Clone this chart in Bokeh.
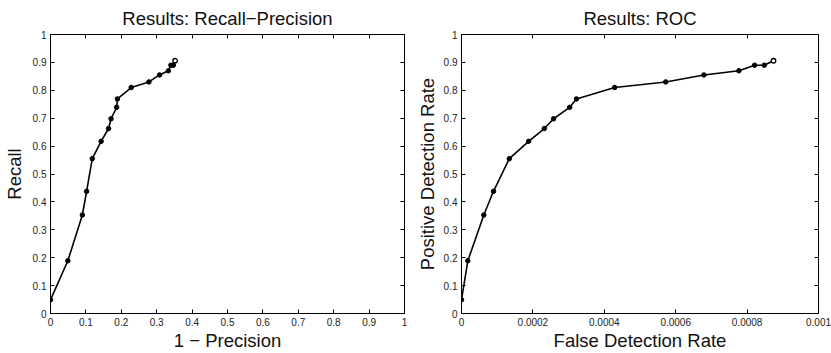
from bokeh.plotting import figure
from bokeh.layouts import row
from bokeh.models import LinearAxis, FixedTicker, CustomJSTickFormatter, Range1d
from bokeh.embed import file_html
from bokeh.resources import INLINE

recall = [0.049, 0.189, 0.353, 0.438, 0.555, 0.617, 0.663, 0.698, 0.739,
          0.769, 0.810, 0.830, 0.855, 0.870, 0.890, 0.890, 0.906]
one_minus_precision = [0.0, 0.049, 0.090, 0.102, 0.118, 0.143, 0.164, 0.171,
                       0.187, 0.189, 0.228, 0.278, 0.308, 0.333, 0.340, 0.347, 0.352]
false_detection_rate = [0.0, 0.0000177, 0.0000625, 0.0000896, 0.000134, 0.000188,
                        0.000232, 0.000258, 0.000303, 0.000322, 0.000429, 0.000572,
                        0.000679, 0.000777, 0.000821, 0.000848, 0.000874]

y_ticks = [0, 0.1, 0.2, 0.3, 0.4, 0.5, 0.6, 0.7, 0.8, 0.9, 1]
x_ticks_left = [0, 0.1, 0.2, 0.3, 0.4, 0.5, 0.6, 0.7, 0.8, 0.9, 1]
x_ticks_right = [0, 0.0002, 0.0004, 0.0006, 0.0008, 0.001]

FONT = "Liberation Sans"
fmt_code = "return String(tick);"


def style_axis(ax, ticks, show_labels=True, label_standoff=2, tick_standoff=4):
    ax.ticker = FixedTicker(ticks=ticks)
    ax.formatter = CustomJSTickFormatter(code=fmt_code)
    ax.major_tick_in = 4
    ax.major_tick_out = 0
    ax.minor_tick_line_color = None
    ax.axis_line_color = "black"
    ax.axis_line_width = 1
    ax.major_tick_line_color = "black"
    ax.major_label_text_font = FONT
    ax.major_label_text_font_size = "10px"
    ax.major_label_text_color = "#222222"
    ax.major_label_standoff = tick_standoff
    ax.axis_label_text_font = FONT
    ax.axis_label_text_font_size = "18.5px"
    ax.axis_label_text_font_style = "normal"
    ax.axis_label_text_color = "#111111"
    ax.axis_label_standoff = label_standoff
    if not show_labels:
        ax.major_label_text_font_size = "0px"
        ax.major_label_text_color = None
        ax.major_label_standoff = 0


def make_fig(title, xs, xmax, xticks, xlabel, ylabel, width, bl, br, ylab_standoff):
    p = figure(width=width, height=353, output_backend="svg",
               toolbar_location=None,
               x_range=Range1d(0, xmax), y_range=Range1d(0, 1),
               min_border_left=bl, min_border_right=br, min_border_top=32,
               min_border_bottom=40)
    p.title.text = title
    p.title.align = "center"
    p.title.text_font = FONT
    p.title.text_font_size = "18.5px"
    p.title.text_font_style = "normal"
    p.title.text_color = "#111111"
    p.title.standoff = 11
    p.grid.visible = False
    p.outline_line_color = "black"
    p.xaxis.axis_label = xlabel
    p.yaxis.axis_label = ylabel
    style_axis(p.xaxis[0], xticks, label_standoff=1, tick_standoff=4)
    style_axis(p.yaxis[0], y_ticks, label_standoff=ylab_standoff, tick_standoff=4)
    top = LinearAxis()
    style_axis(top, xticks, show_labels=False)
    p.add_layout(top, "above")
    right = LinearAxis()
    style_axis(right, y_ticks, show_labels=False)
    p.add_layout(right, "right")
    p.line(xs, recall, line_color="black", line_width=1.6)
    p.scatter(xs[:-1], recall[:-1], size=4.5, fill_color="black", line_color="black")
    p.scatter(xs[-1:], recall[-1:], size=4.5, fill_color="white", line_color="black",
              line_width=1.3)
    return p


p1 = make_fig("Results: Recall\u2212Precision", one_minus_precision, 1, x_ticks_left,
              "1 \u2212 Precision", "Recall", 412, 47, 8, 5)
p2 = make_fig("Results: ROC", false_detection_rate, 0.001, x_ticks_right,
              "False Detection Rate", "Positive Detection Rate", 419, 49, 13, 3)

layout = row(p1, p2)
open("out.html", "w").write(file_html(layout, INLINE))
